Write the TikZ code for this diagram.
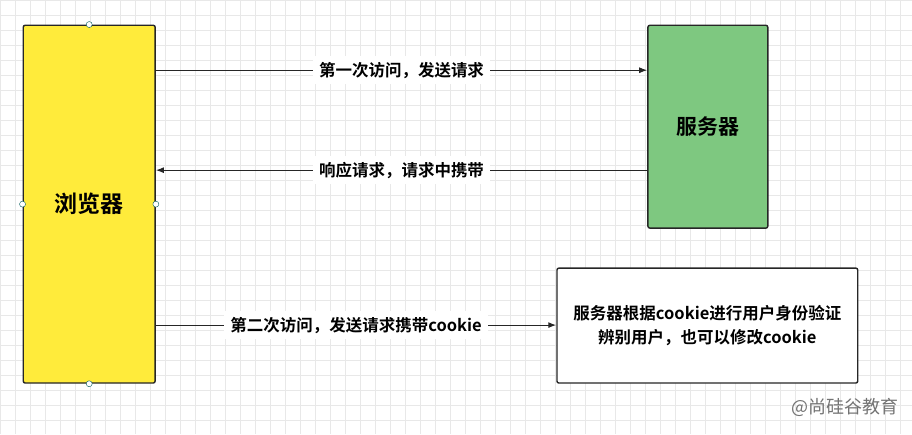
\documentclass[tikz,border=0pt]{standalone}
\usepackage{fontspec}
\newfontfamily\cjk{Noto Sans CJK SC}[BoldFont={Noto Sans CJK SC Bold}]
\usetikzlibrary{positioning,arrows.meta}
\definecolor{browserfill}{RGB}{255,235,59}
\definecolor{serverfill}{RGB}{126,200,128}
\begin{document}
\begin{tikzpicture}[x=1pt,y=-1pt,font=\cjk\bfseries,
box/.style={draw=black!85,line width=1.4pt,rounded corners=2pt,inner sep=0pt},
msg/.style={draw=black!85,line width=1.1pt,-{Latex[length=8pt,width=6pt]}},
lbl/.style={fill=white,inner sep=6pt,font=\cjk\bfseries\fontsize{16.5}{18}\selectfont},
handle/.style={circle,draw=teal!70!black,fill=white,inner sep=0pt,minimum size=6pt}]
\fill[white] (0,0) rectangle (912,434);
\foreach \gx in {0,15,...,900} \draw[black!9,line width=0.5pt] (\gx,0) -- (\gx,434);
\foreach \gy in {0,15,...,420} \draw[black!9,line width=0.5pt] (0,\gy) -- (912,\gy);
\node[box,fill=browserfill,minimum width=132pt,minimum height=358pt,
  font=\cjk\bfseries\fontsize{23}{26}\selectfont] (browser) at (89,204) {浏览器};
\node[box,fill=serverfill,minimum width=120pt,minimum height=203pt,
  font=\cjk\bfseries\fontsize{21}{24}\selectfont] (server) at (708,126.5) {服务器};
\node[box,fill=white,minimum width=301pt,minimum height=115pt,align=center,
  font=\cjk\bfseries\fontsize{16.5}{24}\selectfont] (check) at (707.5,325.5) {服务器根据cookie进行用户身份验证\\辨别用户，也可以修改cookie};
\coordinate (b1) at (browser.east |- 0,70);
\coordinate (s1) at (server.west |- 0,70);
\coordinate (b2) at (browser.east |- 0,170);
\coordinate (s2) at (server.west |- 0,170);
\coordinate (b3) at (browser.east |- 0,325);
\draw[msg] (b1) -- node[lbl]{第一次访问，发送请求} (s1);
\draw[msg] (s2) -- node[lbl]{响应请求，请求中携带} (b2);
\draw[msg] (b3) -- node[lbl]{第二次访问，发送请求携带cookie} (check.west |- b3);
\node[handle] (h1) at (browser.north) {};
\node[handle] (h2) at (browser.south) {};
\node[handle] (h3) at (browser.west) {};
\node[handle] (h4) at (browser.east) {};
\node[text=black!55,font=\cjk\fontsize{18}{20}\selectfont,anchor=south east] (mark) at (902,420) {@尚硅谷教育};
\end{tikzpicture}
\end{document}
